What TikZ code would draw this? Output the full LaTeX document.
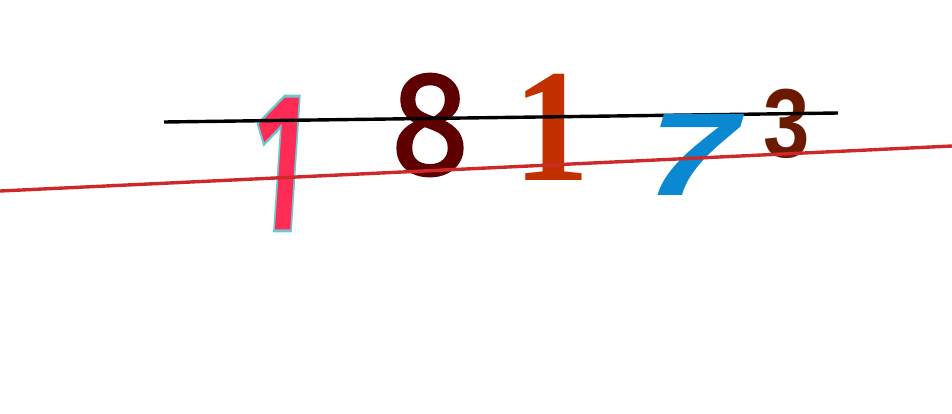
\documentclass[tikz,border=0pt]{standalone}
\usepackage{fontspec}
\setmainfont{Liberation Sans}
\newfontfamily\seriffont{Liberation Serif}
\newfontfamily\roundfont{Fira Sans}
\usetikzlibrary{positioning}
\definecolor{pinkred}{HTML}{FF2B55}
\definecolor{darkmaroon}{HTML}{5E0000}
\definecolor{rust}{HTML}{C23000}
\definecolor{skyblue}{HTML}{0A88D2}
\definecolor{brownred}{HTML}{6B1A00}
\definecolor{noisered}{HTML}{CC2A2A}
% outlined glyph: fill and stroke text rendering
\newcommand{\edged}[1]{\special{pdf:literal direct 2 Tr 3 w 0.42 0.78 0.82 RG}#1\special{pdf:literal direct 0 Tr}}
\newcommand{\thickened}[1]{\special{pdf:literal direct 2 Tr 2.5 w}#1\special{pdf:literal direct 0 Tr}}

\begin{document}
\begin{tikzpicture}[
    x=1pt, y=-1pt,
    digit/.style={inner sep=0pt, outer sep=0pt, anchor=center},
    noise/.style={line width=3.4pt}
]
    \useasboundingbox (0,0) rectangle (952,413);
    % digits
    \node [digit, text=pinkred, xscale=0.55, xslant=0.12, font=\roundfont\bfseries\fontsize{199}{199}\selectfont] (d1) at (279,163.5) {\edged{1}};
    \node [digit, text=darkmaroon, xscale=0.95, font=\roundfont\fontsize{148}{148}\selectfont] (d2) at (430,125) {\thickened{8}};
    \node [digit, text=rust, xscale=0.95, font=\seriffont\bfseries\fontsize{161}{161}\selectfont] (d3) at (552,127.5) {1};
    \node [digit, text=brownred, xscale=0.85, font=\bfseries\fontsize{98}{98}\selectfont] (d5) at (787,124) {3};
    % noise lines
    \coordinate (bl) at (164,122);
    \coordinate (br) at (838,113);
    \draw [noise, black] (bl) -- (br);
    \node [digit, text=skyblue, xscale=1.45, xslant=0.2, font=\bfseries\fontsize{118}{118}\selectfont] (d4) at (693,154.5) {7};
    \coordinate (rl) at (0,191);
    \coordinate (rr) at (952,146);
    \draw [noise, noisered] (rl) -- (rr);
\end{tikzpicture}
\end{document}
